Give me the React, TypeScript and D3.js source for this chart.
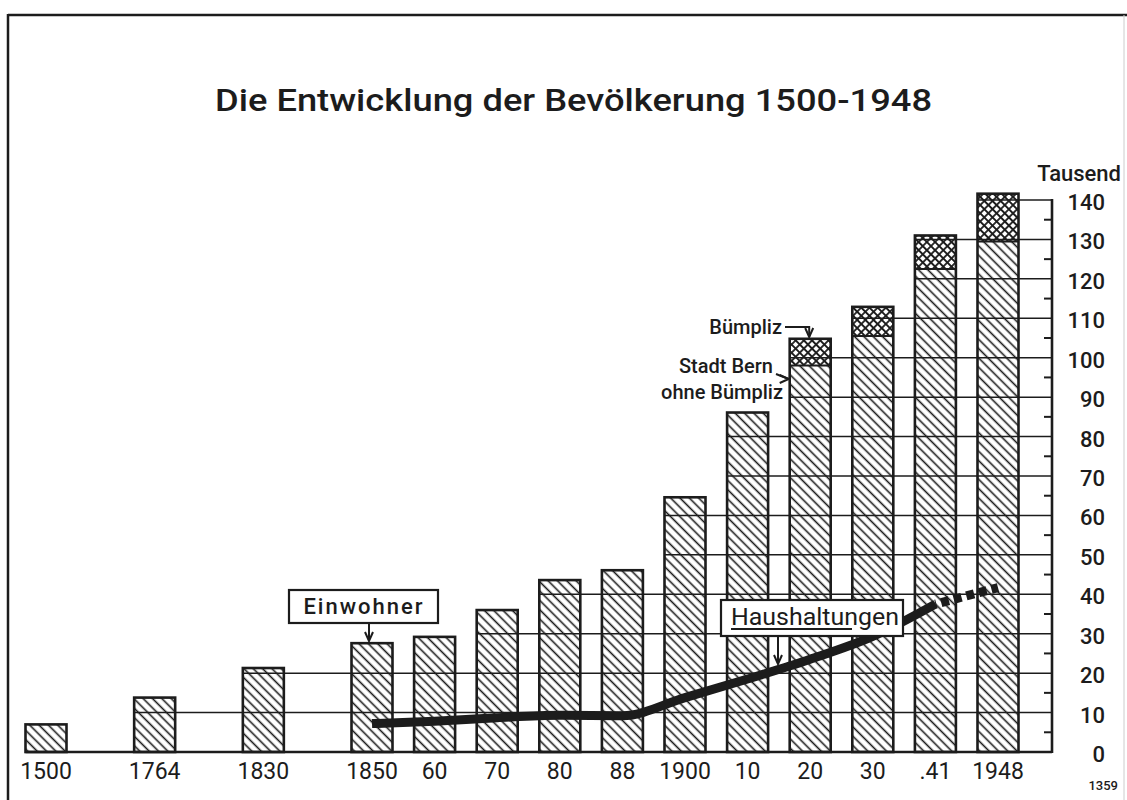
import { useRef, useEffect } from 'react'
import * as d3 from 'd3'

// census years as printed under the bars
const years = ['1500', '1764', '1830', '1850', '60', '70', '80', '88', '1900', '10', '20', '30', '.41', '1948']
// Stadt Bern ohne Bümpliz (Tausend)
const stadtBern = [7.0, 13.8, 21.3, 27.6, 29.2, 36.0, 43.6, 46.1, 64.6, 86.1, 98.0, 105.5, 122.5, 129.5]
// Bümpliz, eingemeindet 1919 (Tausend)
const buempliz = [0, 0, 0, 0, 0, 0, 0, 0, 0, 0, 6.8, 7.4, 8.5, 12.1]
// Haushaltungen (Tausend), first three years without data
const haushalte = [null, null, null, 7.2, 7.8, 8.7, 9.3, 9.2, 13.8, 18.5, 23.5, 29.3, 37.5, 41.7]
const tickValues = [0, 10, 20, 30, 40, 50, 60, 70, 80, 90, 100, 110, 120, 130, 140]
const minorTicks = [5, 15, 25, 35, 45, 55, 65, 75, 85, 95, 105, 115, 125, 135]

const W = 1127
const H = 800

const App = () => {
  const svgRef = useRef<SVGSVGElement>(null)

  useEffect(() => {
    const svg = d3.select(svgRef.current)
    svg.selectAll('*').remove()

    const font = 'Roboto, "DejaVu Sans", sans-serif'
    const ink = '#1c1c1c'
    const bw = 41
    const axisX = 1052

    // early census years sit further apart than the later ones
    const x = d3.scaleLinear().domain([0, 3, years.length - 1]).range([46, 372, 998])
    const y = d3.scaleLinear().domain([0, 140]).range([752, 200])

    const totals = stadtBern.map((v, i) => v + buempliz[i])

    // patterns
    const defs = svg.append('defs')
    const hatch = defs.append('pattern')
      .attr('id', 'hatch')
      .attr('patternUnits', 'userSpaceOnUse')
      .attr('width', 6.6).attr('height', 6.6)
      .attr('patternTransform', 'rotate(-45)')
    hatch.append('rect').attr('width', 6.6).attr('height', 6.6).attr('fill', '#fff')
    hatch.append('line')
      .attr('x1', 3.3).attr('x2', 3.3).attr('y1', 0).attr('y2', 6.6)
      .attr('stroke', ink).attr('stroke-width', 1.6)

    const cross = defs.append('pattern')
      .attr('id', 'cross')
      .attr('patternUnits', 'userSpaceOnUse')
      .attr('width', 5.8).attr('height', 5.8)
      .attr('patternTransform', 'rotate(45)')
    cross.append('rect').attr('width', 5.8).attr('height', 5.8).attr('fill', '#fff')
    cross.append('path')
      .attr('d', 'M0,2.9 H5.8 M2.9,0 V5.8')
      .attr('stroke', ink).attr('stroke-width', 1.8)

    // frame
    svg.append('line').attr('x1', 8).attr('x2', W).attr('y1', 15).attr('y2', 15)
      .attr('stroke', ink).attr('stroke-width', 2.5)
    svg.append('line').attr('x1', 8).attr('x2', 8).attr('y1', 14).attr('y2', H)
      .attr('stroke', ink).attr('stroke-width', 2.5)
    svg.append('line').attr('x1', 1124).attr('x2', 1124).attr('y1', 15).attr('y2', H)
      .attr('stroke', '#ccc').attr('stroke-width', 1)

    // title
    svg.append('text')
      .attr('x', 215).attr('y', 111)
      .attr('textLength', 717).attr('lengthAdjust', 'spacingAndGlyphs')
      .attr('font-family', font).attr('font-weight', 500).attr('font-size', 32)
      .attr('fill', ink)
      .text('Die Entwicklung der Bevölkerung 1500-1948')

    // bars
    const bars = svg.append('g')
    bars.selectAll('rect.stadt')
      .data(stadtBern)
      .enter()
      .append('rect')
      .attr('class', 'stadt')
      .attr('x', (_, i) => x(i) - bw / 2)
      .attr('y', d => y(d))
      .attr('width', bw)
      .attr('height', d => y(0) - y(d))
      .attr('fill', 'url(#hatch)')

    bars.selectAll('rect.bump')
      .data(buempliz)
      .enter()
      .filter(d => d > 0)
      .append('rect')
      .attr('class', 'bump')
      .attr('x', (_, i) => x(i + 10) - bw / 2)
      .attr('y', (d, i) => y(stadtBern[i + 10] + d))
      .attr('width', bw)
      .attr('height', d => y(0) - y(d))
      .attr('fill', 'url(#cross)')

    // gridlines: each one starts at the first bar that reaches above it
    const grid = svg.append('g')
    tickValues.filter(v => v > 0).forEach(v => {
      const first = totals.findIndex(t => t > v)
      if (first < 0) return
      grid.append('line')
        .attr('x1', x(first) - bw / 2).attr('x2', axisX)
        .attr('y1', y(v)).attr('y2', y(v))
        .attr('stroke', ink).attr('stroke-width', 1.5)
    })

    // bar outlines on top of gridlines
    const outl = svg.append('g')
    totals.forEach((t, i) => {
      outl.append('rect')
        .attr('x', x(i) - bw / 2).attr('y', y(t))
        .attr('width', bw).attr('height', y(0) - y(t))
        .attr('fill', 'none').attr('stroke', ink).attr('stroke-width', 2.6)
      if (buempliz[i] > 0) {
        outl.append('line')
          .attr('x1', x(i) - bw / 2).attr('x2', x(i) + bw / 2)
          .attr('y1', y(stadtBern[i])).attr('y2', y(stadtBern[i]))
          .attr('stroke', ink).attr('stroke-width', 2)
      }
    })

    // baseline and right axis
    svg.append('line')
      .attr('x1', x(0) - bw / 2).attr('x2', axisX)
      .attr('y1', y(0)).attr('y2', y(0))
      .attr('stroke', ink).attr('stroke-width', 2.6)
    svg.append('line')
      .attr('x1', axisX).attr('x2', axisX)
      .attr('y1', y(0) + 1).attr('y2', y(140) - 1)
      .attr('stroke', ink).attr('stroke-width', 2.6)
    svg.append('g').selectAll('line')
      .data(minorTicks)
      .enter()
      .append('line')
      .attr('x1', axisX - 8).attr('x2', axisX)
      .attr('y1', d => y(d)).attr('y2', d => y(d))
      .attr('stroke', ink).attr('stroke-width', 2)

    svg.append('g').selectAll('text')
      .data(tickValues)
      .enter()
      .append('text')
      .attr('x', 1105).attr('y', d => y(d) + 10)
      .attr('text-anchor', 'end')
      .attr('font-family', font).attr('font-weight', 500).attr('font-size', 22)
      .attr('fill', ink)
      .text(d => d)

    svg.append('text')
      .attr('x', 1121).attr('y', 181)
      .attr('text-anchor', 'end')
      .attr('font-family', font).attr('font-weight', 500).attr('font-size', 22)
      .attr('fill', ink)
      .text('Tausend')

    svg.append('text')
      .attr('x', 1118).attr('y', 790)
      .attr('text-anchor', 'end')
      .attr('font-family', font).attr('font-weight', 500).attr('font-size', 13)
      .attr('fill', ink)
      .text('1359')

    // year labels
    svg.append('g').selectAll('text')
      .data(years)
      .enter()
      .append('text')
      .attr('x', (_, i) => x(i))
      .attr('y', 779)
      .attr('text-anchor', 'middle')
      .attr('font-family', font).attr('font-size', 23)
      .attr('fill', ink)
      .text(d => d)

    // Haushaltungen line, dotted for the last stretch
    const pts = haushalte
      .map((v, i) => ({ i, v }))
      .filter(p => p.v !== null) as { i: number, v: number }[]
    const line = d3.line<{ i: number, v: number }>()
      .x(p => x(p.i))
      .y(p => y(p.v))
      .curve(d3.curveMonotoneX)
    svg.append('path')
      .attr('d', line(pts.slice(0, pts.length - 1)))
      .attr('fill', 'none').attr('stroke', ink)
      .attr('stroke-width', 9).attr('stroke-linejoin', 'round')
    svg.append('path')
      .attr('d', line(pts.slice(pts.length - 2)))
      .attr('fill', 'none').attr('stroke', ink)
      .attr('stroke-width', 9).attr('stroke-dasharray', '8 5')
      .attr('stroke-dashoffset', -6)

    // annotations
    const arrow = (pathD: string, tx: number, ty: number, dir: 'down' | 'right') => {
      svg.append('path').attr('d', pathD)
        .attr('fill', 'none').attr('stroke', ink).attr('stroke-width', 2)
      const head = dir === 'down'
        ? `M${tx - 4},${ty - 9} L${tx},${ty} L${tx + 4},${ty - 9}`
        : `M${tx - 9},${ty - 4} L${tx},${ty} L${tx - 9},${ty + 4}`
      svg.append('path').attr('d', head)
        .attr('fill', 'none').attr('stroke', ink).attr('stroke-width', 2)
    }

    // Einwohner
    svg.append('rect')
      .attr('x', 289).attr('y', 590).attr('width', 149).attr('height', 33)
      .attr('fill', '#fff').attr('stroke', ink).attr('stroke-width', 2.2)
    svg.append('text')
      .attr('x', 364).attr('y', 614)
      .attr('text-anchor', 'middle')
      .attr('font-family', font).attr('font-weight', 500).attr('font-size', 22).attr('letter-spacing', 2)
      .attr('fill', ink)
      .text('Einwohner')
    arrow(`M${x(3) - 3},623 V641`, x(3) - 3, 641, 'down')

    // Haushaltungen
    svg.append('rect')
      .attr('x', 721).attr('y', 600).attr('width', 182).attr('height', 36)
      .attr('fill', '#fff').attr('stroke', ink).attr('stroke-width', 2.2)
    svg.append('text')
      .attr('x', 731).attr('y', 625)
      .attr('textLength', 168).attr('lengthAdjust', 'spacingAndGlyphs')
      .attr('font-family', font).attr('font-size', 23)
      .attr('fill', ink)
      .text('Haushaltungen')
    svg.append('line')
      .attr('x1', 731).attr('x2', 852).attr('y1', 629).attr('y2', 629)
      .attr('stroke', ink).attr('stroke-width', 2)
    arrow('M778,636 V664', 778, 664, 'down')

    // Bümpliz / Stadt Bern labels at the 1920 bar
    const lbl = (t: string, xx: number, yy: number) => svg.append('text')
      .attr('x', xx).attr('y', yy)
      .attr('text-anchor', 'end')
      .attr('font-family', font).attr('font-weight', 500).attr('font-size', 20)
      .attr('fill', ink)
      .text(t)
    lbl('Bümpliz', 782, 334)
    lbl('Stadt Bern', 773, 373)
    lbl('ohne Bümpliz', 783, 399)
    arrow(`M785,327 H${x(10) - 1} V337`, x(10) - 1, 337, 'down')
    arrow(`M776,374 L${x(10) - bw / 2 - 1},379`, x(10) - bw / 2 - 1, 379, 'right')
  }, [])

  return (
    <svg
      ref={svgRef}
      width={W}
      height={H}
      style={{ position: 'absolute', left: 0, top: 0, background: '#fff' }}
    ></svg>
  )
}

export default App
